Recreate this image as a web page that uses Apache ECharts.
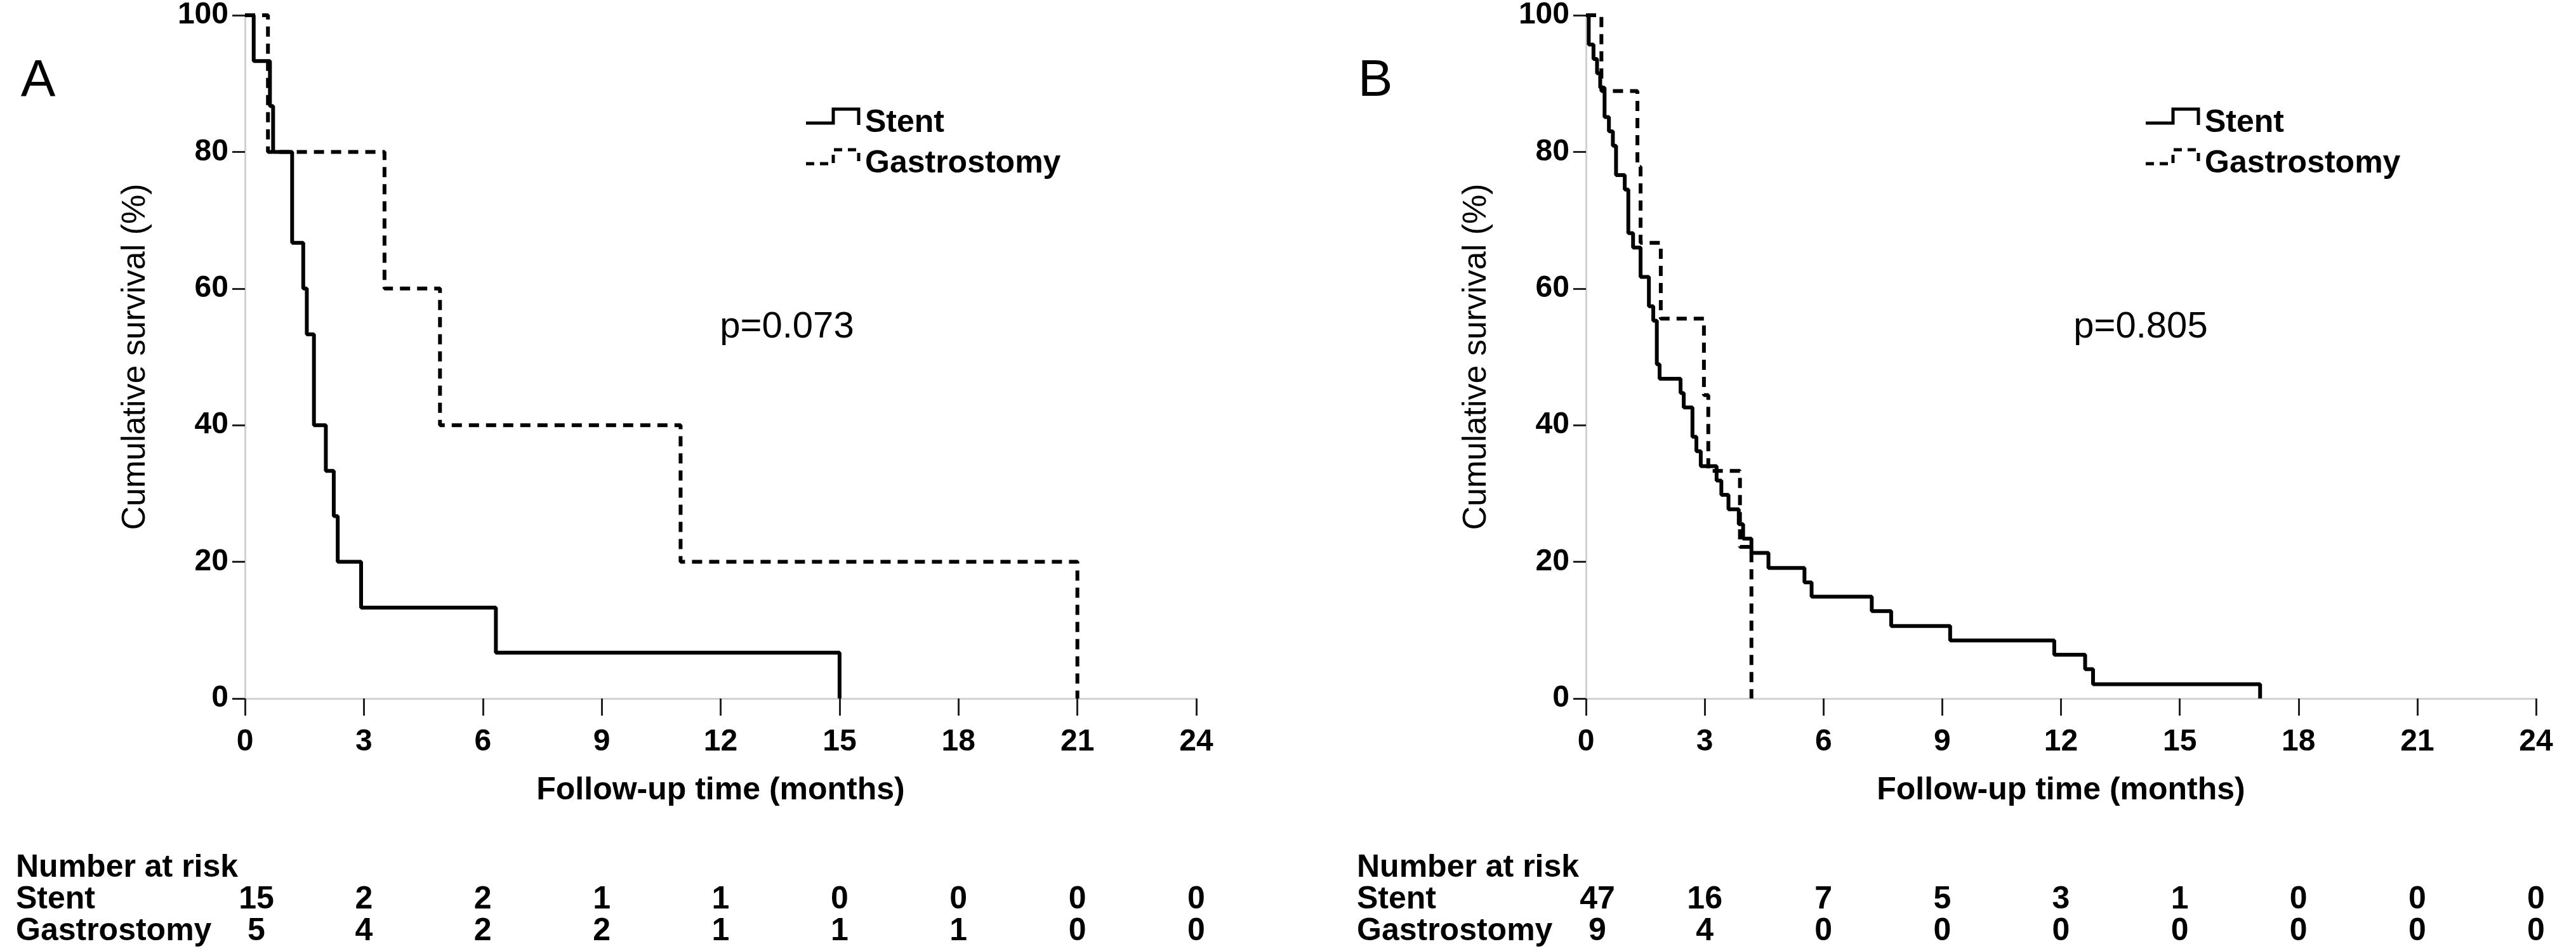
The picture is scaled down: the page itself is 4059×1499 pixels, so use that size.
<!DOCTYPE html>
<html><head><meta charset="utf-8">
<script src="https://cdn.jsdelivr.net/npm/echarts@6/dist/echarts.min.js"></script>
<style>html,body{margin:0;padding:0;background:#fff}#c{width:4059px;height:1499px}</style>
</head><body><div id="c"></div>
<script>
// ---------- data ----------
const timeTicks = [0, 3, 6, 9, 12, 15, 18, 21, 24];
const survTicks = [0, 20, 40, 60, 80, 100];
const groups = ['Stent', 'Gastrostomy'];
const panelLabels = ['A', 'B'];
const pValues = ['p=0.073', 'p=0.805'];

// Panel A
const stentA_t = [0, 0.22, 0.63, 0.71, 1.19, 1.47, 1.56, 1.74, 2.04, 2.24, 2.34, 2.93, 6.33, 15.0];
const stentA_s = [100, 93.3, 86.7, 80, 66.7, 60, 53.3, 40, 33.3, 26.7, 20, 13.3, 6.7, 0];
const gastroA_t = [0, 0.58, 3.52, 4.92, 10.99, 21.0];
const gastroA_s = [100, 80, 60, 40, 20, 0];
const riskA_stent = [15, 2, 2, 1, 1, 0, 0, 0, 0];
const riskA_gastro = [5, 4, 2, 2, 1, 1, 1, 0, 0];

// Panel B
const stentB_t = [0, 0.07, 0.19, 0.28, 0.36, 0.47, 0.58, 0.68, 0.76, 0.98, 1.07, 1.19, 1.38, 1.59, 1.70, 1.79, 1.86, 2.39, 2.47, 2.69, 2.79, 2.90, 3.30, 3.42, 3.60, 3.86, 3.97, 4.18, 4.61, 5.52, 5.70, 7.22, 7.71, 9.20, 11.83, 12.61, 12.81, 17.03];
const stentB_s = [100, 95.7, 93.6, 91.5, 89.4, 85.1, 83.0, 80.9, 76.6, 74.5, 68.1, 66.0, 61.7, 57.4, 55.3, 48.9, 46.8, 44.7, 42.6, 38.3, 36.2, 34.0, 31.9, 29.8, 27.7, 25.5, 23.4, 21.3, 19.1, 17.0, 14.9, 12.8, 10.6, 8.5, 6.4, 4.3, 2.1, 0];
const gastroB_t = [0, 0.39, 1.30, 1.38, 1.89, 2.98, 3.09, 3.89, 4.18];
const gastroB_s = [100, 88.9, 77.8, 66.7, 55.6, 44.4, 33.3, 22.2, 0];
const riskB_stent = [47, 16, 7, 5, 3, 1, 0, 0, 0];
const riskB_gastro = [9, 4, 0, 0, 0, 0, 0, 0, 0];

// ---------- chart ----------
const FONT = "'Liberation Sans', Arial, Helvetica, sans-serif";
const chart = echarts.init(document.getElementById('c'));
const pair = (ts, ss) => ts.map((t, i) => [t, ss[i]]);
const DASH = [16, 11];

function xAx(gi) {
  return {
    gridIndex: gi, type: 'value', min: 0, max: 24, interval: 3,
    axisLine: { show: true, onZero: false, lineStyle: { color: '#d2d2d2', width: 3 } },
    axisTick: { show: true, length: 27, lineStyle: { color: '#222', width: 3 } },
    axisLabel: { fontSize: 48, fontWeight: 'bold', color: '#000', margin: 45, fontFamily: FONT },
    splitLine: { show: false },
    name: 'Follow-up time (months)', nameLocation: 'middle', nameGap: 120,
    nameTextStyle: { fontSize: 50, fontWeight: 'bold', color: '#000', fontFamily: FONT }
  };
}
function yAx(gi) {
  return {
    gridIndex: gi, type: 'value', min: 0, max: 100, interval: 20,
    axisLine: { show: true, lineStyle: { color: '#d2d2d2', width: 3 } },
    axisTick: { show: true, length: 20, lineStyle: { color: '#222', width: 3 } },
    axisLabel: { fontSize: 48, fontWeight: 'bold', color: '#000', margin: 26, fontFamily: FONT, padding: [16, 0, 0, 0] },
    splitLine: { show: false },
    name: 'Cumulative survival (%)', nameLocation: 'middle', nameGap: 146,
    nameTextStyle: { fontSize: 52, fontWeight: 'normal', color: '#000', fontFamily: FONT }
  };
}
function km(name, gi, t, s, dashed) {
  return {
    name, type: 'line', step: 'end', xAxisIndex: gi, yAxisIndex: gi,
    data: pair(t, s), symbol: 'none', animation: false,
    lineStyle: { color: '#000', width: 6, type: dashed ? DASH : 'solid' },
    z: dashed ? 3 : 4
  };
}

chart.setOption({
  backgroundColor: '#fff',
  animation: false,
  grid: [
    { left: 386, top: 19, width: 1499, height: 1082 },
    { left: 2499, top: 19, width: 1497, height: 1082 }
  ],
  xAxis: [xAx(0), xAx(1)],
  yAxis: [yAx(0), yAx(1)],
  series: [
    km(groups[1], 0, gastroA_t, gastroA_s, true),
    km(groups[0], 0, stentA_t, stentA_s, false),
    km(groups[1], 1, gastroB_t, gastroB_s, true),
    km(groups[0], 1, stentB_t, stentB_s, false)
  ]
});

// ---------- annotations (legend, p-values, risk table) ----------
const g = [];
function txt(x, y, text, size, weight, align) {
  g.push({ type: 'text', x, y, z: 100, silent: true,
    style: { text, fill: '#000', font: weight + ' ' + size + 'px ' + FONT, align, verticalAlign: 'middle' } });
}
function poly(points, dashed) {
  g.push({ type: 'polyline', z: 100, silent: true, shape: { points },
    style: { stroke: '#000', lineWidth: 5, fill: null, lineDash: dashed ? [13, 9] : null } });
}
const risks = [[riskA_stent, riskA_gastro], [riskB_stent, riskB_gastro]];
const legendOff = [884, 882];
const pOff = [854, 874];
[0, 1].forEach(idx => {
  const px = v => chart.convertToPixel({ xAxisIndex: idx }, v);
  const x0 = px(0);
  // panel letter
  txt(x0 - 326 + (idx ? -6 : 0), 128, panelLabels[idx], 82, 'normal', 'center');
  // legend
  const L = x0 + legendOff[idx];
  poly([[L, 194], [L + 43, 194], [L + 43, 172], [L + 83, 172], [L + 83, 197]], false);
  poly([[L, 258], [L + 43, 258], [L + 43, 236], [L + 83, 236], [L + 83, 261]], true);
  txt(L + 93, 194, groups[0], 50, 'bold', 'left');
  txt(L + 93, 258, groups[1], 50, 'bold', 'left');
  // p-value
  txt(x0 + pOff[idx], 516, pValues[idx], 58, 'normal', 'center');
  // risk table
  txt(x0 - 361, 1368, 'Number at risk', 50, 'bold', 'left');
  txt(x0 - 361, 1418, groups[0], 50, 'bold', 'left');
  txt(x0 - 361, 1468, groups[1], 50, 'bold', 'left');
  timeTicks.forEach((t, i) => {
    const cx = px(t) + (i === 0 ? 18 : 0);
    txt(cx, 1418, String(risks[idx][0][i]), 50, 'bold', 'center');
    txt(cx, 1468, String(risks[idx][1][i]), 50, 'bold', 'center');
  });
});
chart.setOption({ graphic: g });
</script>
</body></html>
